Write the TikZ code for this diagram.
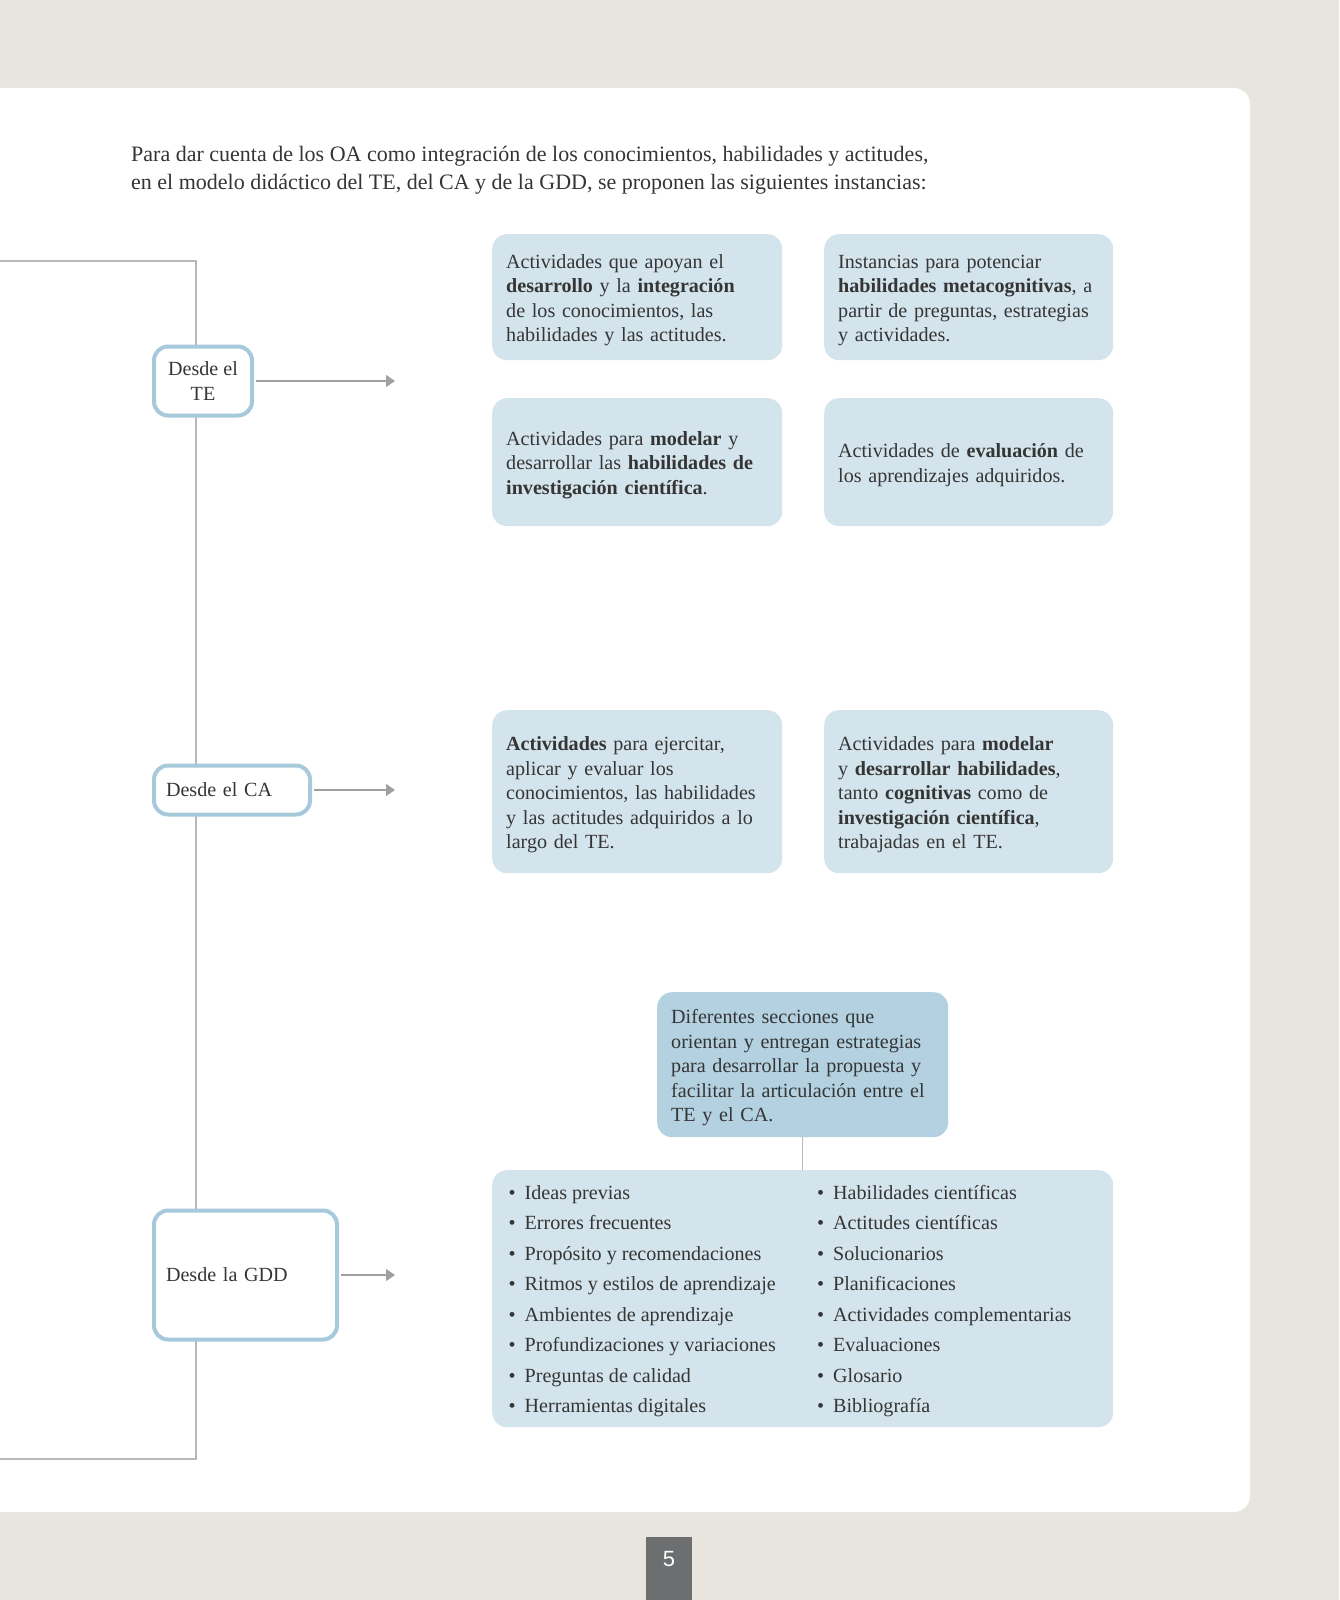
\documentclass[tikz,border=0pt]{standalone}
\usepackage{fontspec}
\setmainfont{Liberation Serif}
\newfontfamily\pagefont{Liberation Sans}
\usetikzlibrary{arrows.meta}
\definecolor{bgbeige}{HTML}{E8E5DE}
\definecolor{boxblue}{HTML}{D3E4EC}
\definecolor{boxdark}{HTML}{B3D1E1}
\definecolor{edgeblue}{HTML}{A6C9DC}
\definecolor{linegray}{HTML}{B8B8B8}
\definecolor{arrowgray}{HTML}{A0A0A0}
\definecolor{txt}{HTML}{353535}
\definecolor{pagegray}{HTML}{6D6E70}
\newcommand{\bxfont}{\fontsize{20.1}{24.5}\selectfont}
\newcommand{\lsfont}{\fontsize{20.1}{30.5}\selectfont}
\newcommand{\infont}{\fontsize{22}{27.6}\selectfont}
\newcommand{\bl}{\makebox[16pt][l]{•}}
\newcommand{\tp}{\rule{0pt}{20pt}}
\begin{document}
\begin{tikzpicture}[x=1pt,y=-1pt,
  cbox/.style={fill=boxblue, rounded corners=15pt, inner xsep=14pt, inner ysep=0pt, align=left, font=\bxfont, text=txt, anchor=north west, execute at begin node={\tp}},
  lbox/.style={draw=edgeblue, line width=4pt, fill=white, rounded corners=14pt, font=\bxfont, text=txt, inner ysep=0pt},
  tree/.style={draw=linegray, line width=1.5pt},
  arr/.style={draw=arrowgray, line width=1.3pt, shorten <=2pt, -{Triangle[length=9pt,width=12pt]}},
  lst/.style={anchor=west, align=left, font=\lsfont, text=txt, inner sep=0pt},
]
\useasboundingbox (0,0) rectangle (1339,1600);
\fill[bgbeige] (0,0) rectangle (1339,1600);
\fill[white, rounded corners=16pt] (-40,88) rectangle (1250,1512);

% intro text
\node[anchor=west, align=left, font=\infont, text=txt, inner sep=0pt] (intro) at (131,170)
  {Para dar cuenta de los OA como integración de los conocimientos, habilidades y actitudes,\\
   en el modelo didáctico del TE, del CA y de la GDD, se proponen las siguientes instancias:};

% tree bracket
\coordinate (ttop) at (0,261);
\coordinate (tc1) at (196,261);
\coordinate (tc2) at (196,1459);
\coordinate (tbot) at (0,1459);
\draw[tree] (ttop) -- (tc1) -- (tc2) -- (tbot);

% left boxes
\node[lbox, minimum width=98pt, minimum height=69pt, align=center] (te) at (203,381) {Desde el\\TE};
\node[lbox, minimum width=156pt, minimum height=49pt, text width=132pt, inner xsep=12pt, align=left] (ca) at (232,790) {Desde el CA};
\node[lbox, minimum width=183pt, minimum height=129pt, text width=159pt, inner xsep=12pt, align=left] (gdd) at (245.5,1275) {Desde la GDD};

% arrows
\coordinate (tipx) at (395,0);
\draw[arr] (te.east) -- (te.east -| tipx);
\draw[arr] (ca.east) -- (ca.east -| tipx);
\draw[arr] (gdd.east) -- (gdd.east -| tipx);

% content boxes
\node[cbox, text width=262pt, minimum height=126pt] (b1) at (492,234)
  {Actividades que apoyan el\\ \textbf{desarrollo} y la \textbf{integración}\\ de los conocimientos, las\\ habilidades y las actitudes.};
\node[cbox, text width=261pt, minimum height=126pt] (b2) at (824,234)
  {Instancias para potenciar\\ \textbf{habilidades metacognitivas},~a\\ partir de preguntas, estrategias\\ y actividades.};
\node[cbox, text width=262pt, minimum height=128pt] (b3) at (492,398)
  {Actividades para \textbf{modelar}~y\\ desarrollar las \textbf{habilidades~de}\\ \textbf{investigación científica}.};
\node[cbox, text width=261pt, minimum height=128pt] (b4) at (824,398)
  {Actividades de \textbf{evaluación}~de\\ los aprendizajes adquiridos.};
\node[cbox, text width=262pt, minimum height=163pt] (b5) at (492,710)
  {\textbf{Actividades} para ejercitar,\\ aplicar y evaluar los\\ conocimientos, las habilidades\\ y las actitudes adquiridos a~lo\\ largo del TE.};
\node[cbox, text width=261pt, minimum height=163pt] (b6) at (824,710)
  {Actividades para \textbf{modelar}\\ y \textbf{desarrollar habilidades},\\ tanto \textbf{cognitivas} como de\\ \textbf{investigación científica},\\ trabajadas en el TE.};
\node[cbox, fill=boxdark, text width=263pt, minimum height=145pt] (b7) at (657,992)
  {Diferentes secciones que\\ orientan y entregan estrategias\\ para desarrollar la propuesta~y\\ facilitar la articulación entre~el\\ TE y el CA.};
\node[cbox, minimum width=621pt, minimum height=257pt, execute at begin node={}] (b8) at (492,1170) {};
\draw[tree] (b7.south) -- (b7.south |- b8.north);

\node[lst] (listl) at (508.5,1301)
  {\bl Ideas previas\\ \bl Errores frecuentes\\ \bl Propósito y recomendaciones\\ \bl Ritmos y estilos de aprendizaje\\
   \bl Ambientes de aprendizaje\\ \bl Profundizaciones y variaciones\\ \bl Preguntas de calidad\\ \bl Herramientas digitales};
\node[lst] (listr) at (817,1301)
  {\bl Habilidades científicas\\ \bl Actitudes científicas\\ \bl Solucionarios\\ \bl Planificaciones\\
   \bl Actividades complementarias\\ \bl Evaluaciones\\ \bl Glosario\\ \bl Bibliografía};

% page number
\fill[pagegray] (646,1537) rectangle (692,1600);
\node[text=white, font=\pagefont\fontsize{22}{26}\selectfont, inner sep=0pt] (pg) at (669,1559) {5};
\end{tikzpicture}
\end{document}
